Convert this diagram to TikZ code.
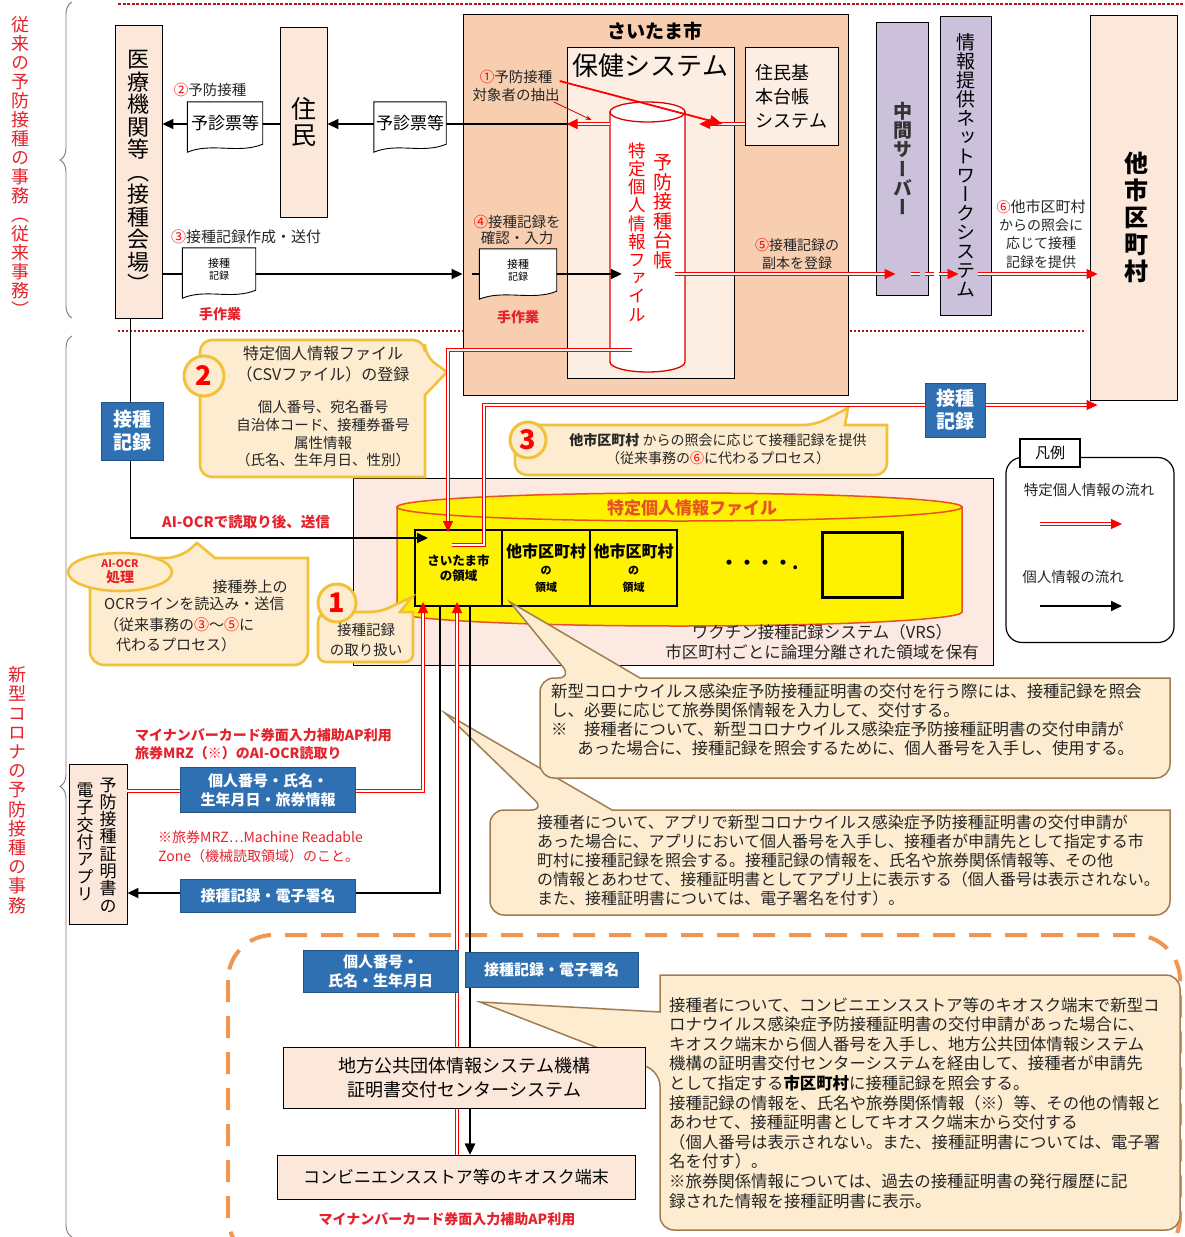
\documentclass[tikz,border=0pt]{standalone}
\usepackage{fontspec}
\setmainfont{Noto Sans CJK JP}
\newfontfamily\vjp[RawFeature=+vert]{Noto Sans CJK JP}
\usetikzlibrary{arrows.meta,decorations.pathreplacing}

\definecolor{peach}{RGB}{252,232,218}
\definecolor{peachlt}{RGB}{253,238,228}
\definecolor{peachdk}{RGB}{248,206,176}
\definecolor{lav}{RGB}{204,193,219}
\definecolor{vrsfill}{RGB}{252,234,226}
\definecolor{blu}{RGB}{47,112,178}
\definecolor{calfill}{RGB}{253,236,207}
\definecolor{calline}{RGB}{160,125,80}
\definecolor{gold}{RGB}{242,193,58}
\definecolor{dred}{RGB}{180,20,30}
\definecolor{orng}{RGB}{240,150,80}
\definecolor{braceclr}{RGB}{140,115,115}
\definecolor{txtred}{RGB}{228,35,45}
\definecolor{cylred}{RGB}{232,80,40}

\newcommand\fs[2]{\fontsize{#1}{#2}\selectfont}

% one character per line, for vertical writing
\def\vend{}
\def\vstack#1{\vstackA#1\vend}
\def\vstackA#1{#1\vstackB}
\def\vstackB#1{\ifx#1\vend\else\\#1\expandafter\vstackB\fi}

\tikzstyle{pbox}=[draw, line width=0.9pt, fill=peach, inner sep=0pt, align=center]
\tikzstyle{vlbl}=[align=center, inner sep=0pt]
\tikzstyle{blubox}=[fill=blu, draw=blu!75!black, line width=0.8pt, text=white, font=\bfseries\fs{15}{19}, align=center, inner sep=0pt]
\tikzstyle{flow}=[draw=black, line width=1.8pt]
\tikzstyle{atip}=[-{Triangle[length=11pt,width=10pt]}]
\tikzstyle{pflow}=[draw=red, double=white, double distance=1.4pt, line width=1.1pt]
\tikzstyle{ptip}=[-{Triangle[length=11pt,width=10pt]}]
\tikzstyle{docu}=[draw, fill=white, line width=0.9pt]
\tikzstyle{gcall}=[draw=gold, fill=calfill, line width=2.6pt]
\tikzstyle{bcall}=[draw=calline, fill=calfill, line width=1.5pt]
\tikzstyle{rlbl}=[text=txtred, font=\bfseries\fs{14}{17.5}, inner sep=0pt]
\tikzstyle{lbl}=[text=black!85, font=\fs{14.5}{18}, inner sep=0pt]
\tikzstyle{region}=[draw, fill=yellow, line width=1.2pt, inner sep=0pt, align=center, minimum width=87pt, minimum height=76pt]
\tikzstyle{numc}=[circle, draw=gold, fill=calfill, line width=3pt, inner sep=0pt, text=red, font=\bfseries\fs{27}{27}]
\tikzstyle{sbrace}=[decorate, decoration={brace, amplitude=12pt}, draw=braceclr, line width=0.9pt]

% paper slip with a wavy lower edge
\newcommand\docnode[5]{%
    \node[minimum width=#3, minimum height=#4, inner sep=0pt] (#1) at (#2) {};
    \draw[docu] (#1.north west) -- (#1.north east) -- ([yshift=6pt]#1.south east)
        .. controls +(-24pt,-10pt) and +(24pt,10pt) .. ([yshift=-2pt]#1.south west) -- cycle;
    \node[inner sep=0pt, align=center] at ([yshift=3pt]#1) {#5};}

\begin{document}
\begin{tikzpicture}[x=1pt, y=-1pt]
    \useasboundingbox (0,0) rectangle (1184,1237);
    \clip (0,0) rectangle (1184,1237);
% Levels used by the flows
    \coordinate (r124) at (0,124);
    \coordinate (r274) at (0,274);
    \coordinate (r350) at (0,350);
    \coordinate (r532) at (0,532);
    \coordinate (r538) at (0,538);
    \coordinate (r545) at (0,545);
    \coordinate (r602) at (0,602);
    \coordinate (r791) at (0,791);
    \coordinate (r893) at (0,893);
    \coordinate (c423) at (423,0);
    \coordinate (c428) at (428,0);
    \coordinate (c440) at (440,0);
    \coordinate (c448) at (448,0);
    \coordinate (c452) at (452,0);
    \coordinate (c457) at (457,0);
    \coordinate (c470) at (470,0);
    \coordinate (c632) at (632,0);
    \coordinate (turn3) at (484,405);
% Sections
    \node[vlbl, text=txtred, font=\vjp\fs{18}{19}] (oldsec) at (20,166) {\vstack{従来の予防接種の事務（従来事務）}};
    \node[vlbl, text=txtred, font=\vjp\fs{18}{19.2}] (newsec) at (18,790) {\vstack{新型コロナの予防接種の事務}};
    \draw[sbrace] (72,318) -- (72,2);
    \draw[sbrace] (72,1237) -- (72,336);
    \draw[dred, line width=2.2pt, dash pattern=on 3pt off 1.5pt] (118,4) -- (1184,4);
    \draw[dred, line width=1.2pt, dash pattern=on 2pt off 2pt] (118,331) -- (1086,331);
% Upper boxes
    \node[pbox, minimum width=47pt, minimum height=293pt, font=\vjp\fs{22}{22.5}] (iryo) at (138.5,171.5) {\vstack{医療機関等（接種会場）}};
    \node[pbox, minimum width=47pt, minimum height=190pt, font=\vjp\fs{25}{26}] (jumin) at (303.5,122) {\vstack{住民}};
    \node[pbox, fill=peachdk, minimum width=385pt, minimum height=381pt] (saitama) at (655.5,205) {};
    \node[font=\bfseries\fs{19}{20}] (saitamat) at (655,31) {さいたま市};
    \node[pbox, fill=peachlt, minimum width=167pt, minimum height=331pt] (hoken) at (650.5,212.5) {};
    \node[font=\fs{26}{28}] (hokent) at (650.5,66) {保健システム};
    \node[pbox, fill=peachlt, minimum width=93pt, minimum height=98pt, font=\fs{18}{24}, align=left] (juki) at (791.5,96) {住民基\\本台帳\\システム};
    \node[pbox, fill=lav, minimum width=52pt, minimum height=273pt, font=\vjp\bfseries\fs{19}{19.2}, text=black!80] (chukan) at (902.5,158.5) {\vstack{中間サーバー}};
    \node[pbox, fill=lav, minimum width=51pt, minimum height=299pt, font=\vjp\fs{19}{19}] (joho) at (965.5,165.5) {\vstack{情報提供ネットワークシステム}};
    \node[pbox, minimum width=87pt, minimum height=385pt] (tashi) at (1133.5,207.5) {};
    \node[vlbl, font=\vjp\bfseries\fs{24}{27}] (tashit) at (1136,217) {\vstack{他市区町村}};
% Ledger cylinder
    \filldraw[fill=white, draw=red!85!black, line width=1.3pt] (610,112) -- (610,362) arc[start angle=180, end angle=360, x radius=37.5pt, y radius=10pt] -- (685,112) -- cycle;
    \filldraw[fill=white, draw=red!85!black, line width=1.3pt] (647.5,112) ellipse[x radius=37.5pt, y radius=10pt];
    \node[minimum width=75pt, minimum height=250pt, inner sep=0pt] (daicho) at (647.5,237) {};
    \node[vlbl, text=red, font=\vjp\fs{19}{19.5}] (daichot1) at (663,212) {\vstack{予防接種台帳}};
    \node[vlbl, text=red, font=\vjp\fs{17.5}{18.2}] (daichot2) at (637,232) {\vstack{特定個人情報ファイル}};
% Upper flows
    \draw[flow, atip] (hoken.west |- r124) -- (jumin.east |- r124);
    \draw[flow, atip] (jumin.west |- r124) -- (iryo.east |- r124);
    \draw[flow, atip] (iryo.east |- r274) -- (saitama.west |- r274);
    \draw[flow, atip] ([xshift=9pt]saitama.west |- r274) -- ([xshift=12pt]daicho.west |- r274);
    \draw[pflow, ptip] (juki.west |- r124) -- ([xshift=14pt]daicho.east |- r124);
    \draw[pflow, ptip] (daicho.west |- r124) -- (hoken.west |- r124);
    \draw[pflow, ptip] ([xshift=-10pt]daicho.east |- r274) -- ([xshift=-7pt]chukan.center |- r274);
    \draw[pflow, ptip, dash pattern=on 9pt off 5pt] ([xshift=8pt]chukan.center |- r274) -- ([xshift=-7pt]joho.center |- r274);
    \draw[pflow, ptip] ([xshift=12pt]joho.center |- r274) -- ([xshift=8pt]tashi.west |- r274);
% Slips and labels
    \docnode{ysh1}{225,126}{75pt}{48pt}{\fs{17}{20}予診票等}
    \docnode{ysh2}{410,126}{72pt}{48pt}{\fs{17}{20}予診票等}
    \docnode{kir3}{219,272}{73pt}{48pt}{\fs{11}{14}接種\\記録}
    \docnode{kir4}{518,273}{77pt}{48pt}{\fs{11}{14}接種\\記録}
    \node[lbl] (lb2) at (210,90) {\textcolor{red}{②}予防接種};
    \node[lbl, font=\fs{15}{18}] (lb3) at (246,237) {\textcolor{red}{③}接種記録作成・送付};
    \node[lbl, align=center, font=\fs{14.5}{18}] (lb1) at (516,86) {\textcolor{red}{①}予防接種\\対象者の抽出};
    \node[lbl, align=center, font=\fs{14.5}{16.5}] (lb4) at (517,230) {\textcolor{red}{④}接種記録を\\確認・入力};
    \node[lbl, align=center, font=\fs{14}{18}] (lb5) at (797,254) {\textcolor{red}{⑤}接種記録の\\副本を登録};
    \node[lbl, align=center, font=\fs{14}{18.3}] (lb6) at (1041,234) {\textcolor{red}{⑥}{\fs{15}{18}他市区町村}\\からの照会に\\応じて接種\\記録を提供};
    \node[rlbl] (te1) at (220,314) {手作業};
    \node[rlbl] (te2) at (518,317) {手作業};
    \draw[red, line width=1.8pt, -{Triangle[length=13pt,width=11pt]}] ([yshift=5pt]lb1.east) -- ([xshift=-22pt]juki.west |- r124);
    \draw[red!80!black, line width=0.8pt, -{Stealth[length=6pt]}] ([xshift=-6pt]lb1.south east) -- ([xshift=25pt,yshift=4pt]hoken.west |- r124);
% VRS
    \node[pbox, fill=vrsfill, minimum width=640pt, minimum height=187pt] (vrs) at (673,571.5) {};
    \filldraw[fill=yellow, draw=cylred, line width=1.5pt] (397,507) -- (397,612) arc[start angle=180, end angle=360, x radius=282.5pt, y radius=14pt] -- (962,507) -- cycle;
    \filldraw[fill=yellow, draw=cylred, line width=1.5pt] (679.5,507) ellipse[x radius=282.5pt, y radius=14pt];
    \node[text=cylred, font=\bfseries\fs{17}{18}] (vrsttl) at (692,508) {特定個人情報ファイル};
    \node[region, font=\bfseries\fs{12.5}{15}] (reg1) at (458.5,568) {さいたま市\\の領域};
    \node[region, font=\bfseries\fs{16}{17}] (reg2) at (546,568) {他市区町村\\{\fs{11}{13}の}\\{\fs{11}{13}領域}};
    \node[region, font=\bfseries\fs{16}{17}] (reg3) at (633.5,568) {他市区町村\\{\fs{11}{13}の}\\{\fs{11}{13}領域}};
    \node[font=\bfseries\fs{18}{18}] (dots) at (760,565) {・・・・.};
    \node[draw, line width=2.5pt, minimum width=80pt, minimum height=65pt] (sq) at (862.5,565) {};
    \node[lbl, font=\fs{16.5}{20}, align=center] (vrst) at (822,642) {ワクチン接種記録システム（VRS）\\市区町村ごとに論理分離された領域を保有};
% Orange frame
    \draw[orng, line width=4pt, dash pattern=on 22pt off 14pt, rounded corners=45pt] (228,935) rectangle (1180,1262);
% Numbered callouts
    \draw[gcall, rounded corners=12pt] (200,400) -- (200,340) -- (425,340) -- (425,356) [sharp corners] -- (447,372) -- (425,395) -- (425,477) [rounded corners=12pt] -- (200,477) -- cycle;
    \node[numc, minimum size=40pt] (n2) at (204,376) {2};
    \node[lbl, font=\fs{16}{21}, align=center] (co2a) at (323,364) {特定個人情報ファイル\\（CSVファイル）の登録};
    \node[lbl, font=\fs{14.5}{17.7}, align=center] (co2b) at (323,434) {個人番号、宛名番号\\自治体コード、接種券番号\\属性情報\\（氏名、生年月日、性別）};
    \draw[gcall, rounded corners=12pt] (515,450) -- (515,425) -- (815,425) [sharp corners] -- (848,408) -- (845,425) -- (887,425) [rounded corners=12pt] -- (887,475) -- (515,475) -- cycle;
    \node[numc, minimum size=36pt] (n3) at (528,440) {3};
    \node[lbl, font=\fs{14}{18}, align=center] (co3t) at (718,449) {{\bfseries 他市区町村} からの照会に応じて接種記録を提供\\（従来事務の\textcolor{red}{⑥}に代わるプロセス）};
    \draw[gcall, rounded corners=14pt] (90,610) -- (90,558) -- (180,558) [sharp corners] -- (197,543) -- (215,558) -- (308,558) [rounded corners=14pt] -- (308,665) -- (90,665) -- cycle;
    \filldraw[gcall] (120,572) ellipse[x radius=52pt, y radius=19pt];
    \node[text=txtred, align=center, inner sep=0pt, font=\bfseries\fs{14}{15}] (aiocr) at (120,572) {{\fs{10.5}{12}AI-OCR}\\処理};
    \node[lbl, font=\fs{15}{20}] (co1a) at (250,587) {接種券上の};
    \node[lbl, font=\fs{15}{20.5}, align=left, anchor=north west] (co1b) at (104,597) {OCRラインを読込み・送信\\（従来事務の\textcolor{red}{③}～\textcolor{red}{⑤}に\\\hspace*{0.8em}代わるプロセス）};
    \draw[gcall, rounded corners=10pt] (318,640) -- (318,612) -- (380,612) [sharp corners] -- (412,597) -- (400,612) -- (413,612) [rounded corners=8pt] -- (413,662) -- (318,662) -- cycle;
    \node[numc, minimum size=38pt] (n1) at (337,603) {1};
    \node[lbl, font=\fs{14.5}{20}, align=center] (co1t) at (366,640) {接種記録\\の取り扱い};
% Note callouts
    \draw[bcall, rounded corners=14pt] (490,860) -- (490,810) -- (545,810) [sharp corners] -- (445,713) -- (612,810) -- (1170,810) [rounded corners=14pt] -- (1170,915) -- (490,915) -- cycle;
    \node[lbl, font=\fs{16}{19}, align=left, anchor=north west] (noteb) at (537,815) {接種者について、アプリで新型コロナウイルス感染症予防接種証明書の交付申請が\\あった場合に、アプリにおいて個人番号を入手し、接種者が申請先として指定する市\\町村に接種記録を照会する。接種記録の情報を、氏名や旅券関係情報等、その他\\の情報とあわせて、接種証明書としてアプリ上に表示する（個人番号は表示されない。\\また、接種証明書については、電子署名を付す）。};
    \draw[bcall, rounded corners=14pt] (540,730) -- (540,678) -- (572,678) [sharp corners] -- (510,602) -- (640,678) -- (1170,678) [rounded corners=14pt] -- (1170,778) -- (540,778) -- cycle;
    \node[lbl, font=\fs{16.4}{19}, align=left, anchor=north west] (notea) at (551,683) {新型コロナウイルス感染症予防接種証明書の交付を行う際には、接種記録を照会\\し、必要に応じて旅券関係情報を入力して、交付する。\\※　接種者について、新型コロナウイルス感染症予防接種証明書の交付申請が\\\hspace*{1.6em}あった場合に、接種記録を照会するために、個人番号を入手し、使用する。};
    \draw[bcall, rounded corners=14pt] (900,975) -- (1180,975) -- (1180,1230) -- (660,1230) -- (660,1072) [sharp corners] -- (480,1002) -- (660,1012) -- (660,975) [rounded corners=14pt] -- cycle;
    \node[lbl, font=\fs{16.4}{19.6}, align=left, anchor=north west] (notec) at (669,997) {接種者について、コンビニエンスストア等のキオスク端末で新型コ\\ロナウイルス感染症予防接種証明書の交付申請があった場合に、\\キオスク端末から個人番号を入手し、地方公共団体情報システム\\機構の証明書交付センターシステムを経由して、接種者が申請先\\として指定する{\bfseries\color{black}市区町村}に接種記録を照会する。\\接種記録の情報を、氏名や旅券関係情報（※）等、その他の情報と\\あわせて、接種証明書としてキオスク端末から交付する\\（個人番号は表示されない。また、接種証明書については、電子署\\名を付す）。\\※旅券関係情報については、過去の接種証明書の発行履歴に記\\録された情報を接種証明書に表示。};
% Lower boxes
    \node[pbox, minimum width=58pt, minimum height=160pt] (app) at (98,844.5) {};
    \node[vlbl, font=\vjp\fs{17}{17.3}] (appt1) at (108,845) {\vstack{予防接種証明書の}};
    \node[vlbl, font=\vjp\fs{17}{17.3}] (appt2) at (85,842) {\vstack{電子交付アプリ}};
    \node[pbox, minimum width=362pt, minimum height=61pt, font=\fs{18}{24}] (kiko) at (464.5,1078) {};
    \node[pbox, minimum width=358pt, minimum height=44pt, font=\fs{17}{20}] (kiosk) at (456,1177) {};
% Lower flows
    \draw[flow, atip] ([xshift=-8pt]iryo.south) |- (c428 |- r538);
    \draw[pflow, ptip] (c632 |- r350) -| (c448 |- r532);
    \draw[pflow, ptip] (c452 |- r545) -| (turn3) -- ([xshift=8pt]tashi.west |- turn3);
    \draw[pflow, ptip] (app.east |- r791) -| (c423 |- r602);
    \draw[flow, atip] (c440 |- reg1.south) |- (app.east |- r893);
    \draw[pflow, ptip] (c457 |- kiosk.north) -- (c457 |- r602);
    \draw[flow, atip] (c470 |- reg1.south) -- (c470 |- kiosk.north);
    \node[pbox, minimum width=362pt, minimum height=61pt, font=\fs{18}{24}] (kikot) at (kiko) {地方公共団体情報システム機構\\証明書交付センターシステム};
    \node[pbox, minimum width=358pt, minimum height=44pt, font=\fs{17}{20}] (kioskt) at (kiosk) {コンビニエンスストア等のキオスク端末};
    \draw[flow, atip] (kikot.south -| c470) -- (kioskt.north -| c470);
% Data on the flows
    \node[blubox, minimum width=62pt, minimum height=58pt, font=\bfseries\fs{19}{23}] (kir1) at (132,431) {接種\\記録};
    \node[blubox, minimum width=60pt, minimum height=54pt, font=\bfseries\fs{19}{23}] (kir2) at (955,410) {接種\\記録};
    \node[blubox, minimum width=175pt, minimum height=45pt] (kojin1) at (268,790) {個人番号・氏名・\\生年月日・旅券情報};
    \node[blubox, minimum width=175pt, minimum height=33pt] (kiroku1) at (268,896) {接種記録・電子署名};
    \node[blubox, minimum width=155pt, minimum height=42pt] (kojin2) at (380.5,971) {個人番号・\\氏名・生年月日};
    \node[blubox, minimum width=173pt, minimum height=35pt] (kiroku2) at (551.5,969.5) {接種記録・電子署名};
% Red notes
    \node[rlbl, font=\bfseries\fs{14.5}{17.5}] (aisend) at (246,522) {AI-OCRで読取り後、送信};
    \node[rlbl, align=left, anchor=west] (mynum1) at (135,744) {マイナンバーカード券面入力補助AP利用\\旅券MRZ（※）のAI-OCR読取り};
    \node[rlbl, align=left, anchor=west, font=\fs{14}{19.5}] (mrz) at (158,847) {※旅券MRZ…Machine Readable\\Zone（機械読取領域）のこと。};
    \node[rlbl] (mynum2) at (447,1219) {マイナンバーカード券面入力補助AP利用};
% Legend
    \node[draw, rounded corners=16pt, line width=1.2pt, minimum width=168pt, minimum height=185pt] (legend) at (1090,550) {};
    \node[draw, fill=white, line width=1.2pt, minimum width=60pt, minimum height=28pt, font=\fs{15}{18}] (hanrei) at (1050,453) {凡例};
    \node[lbl] (lgt1) at (1089,490) {特定個人情報の流れ};
    \node[lbl] (lgt2) at (1073,577) {個人情報の流れ};
    \coordinate (lg1a) at (1040,524);
    \coordinate (lg1b) at (1122,524);
    \coordinate (lg2a) at (1040,606);
    \coordinate (lg2b) at (1122,606);
    \draw[pflow, ptip] (lg1a) -- (lg1b);
    \draw[flow, atip] (lg2a) -- (lg2b);
\end{tikzpicture}
\end{document}
